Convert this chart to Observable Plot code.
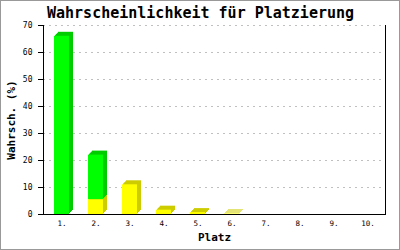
<!DOCTYPE html>
<html>
<head>
<meta charset="utf-8">
<script src="https://cdn.jsdelivr.net/npm/d3@7"></script>
<script src="https://cdn.jsdelivr.net/npm/@observablehq/plot@0.6"></script>
<style>
  html, body { margin: 0; padding: 0; background: #fff; }
  #wrap { position: relative; width: 400px; height: 250px; }
  #border { position: absolute; left: 0; top: 0; width: 400px; height: 250px; box-sizing: border-box; border: 1px solid #999; pointer-events: none; }
  svg { display: block; }
</style>
</head>
<body>
<div id="wrap"><div id="border"></div></div>
<script>
const places = ["1.", "2.", "3.", "4.", "5.", "6.", "7.", "8.", "9.", "10."];
const green = [66, 16.5, 0, 0, 0, 0, 0, 0, 0, 0];
const yellow = [0, 5.5, 11, 1.6, 0.7, 0.2, 0, 0, 0, 0];
const yTicks = [0, 10, 20, 30, 40, 50, 60, 70];
const title = "Wahrscheinlichkeit für Platzierung";
const xLabel = "Platz";
const yLabel = "Wahrsch. (%)";

const rows = places.map((p, i) => ({
  place: p,
  y0: 0,
  y1: yellow[i],
  g0: yellow[i],
  g1: yellow[i] + green[i]
}));

const font = "DejaVu Sans Mono, Liberation Mono, monospace";
const depth = [1, 2, 3, 4];

const marks = [
  Plot.gridY(yTicks, {stroke: "#c0c0c0", strokeOpacity: 1, strokeDasharray: "2,4"}),
  ...depth.map(k => Plot.barY(rows, {x: "place", y1: "y0", y2: "y1", fill: "#cccc00", dx: k, dy: -k})),
  ...depth.map(k => Plot.barY(rows, {x: "place", y1: "g0", y2: "g1", fill: "#00cc00", dx: k, dy: -k})),
  Plot.barY(rows, {x: "place", y1: "y0", y2: "y1", fill: "#ffff00"}),
  Plot.barY(rows, {x: "place", y1: "g0", y2: "g1", fill: "#00ff00"}),
  Plot.frame({anchor: "left", stroke: "#000"}),
  Plot.frame({anchor: "right", stroke: "#000"}),
  Plot.frame({anchor: "bottom", stroke: "#000"}),
  Plot.axisY(yTicks, {tickSize: 5, tickPadding: 6, fontSize: 8, label: null, stroke: "#000"}),
  Plot.axisX({tickSize: 0, tickPadding: 6, fontSize: 7.5, label: null}),
  Plot.text([title], {frameAnchor: "top", lineAnchor: "middle", dy: -12, dx: -14, fontSize: 15, fontWeight: "bold", fill: "#000"}),
  Plot.text([xLabel], {frameAnchor: "bottom", lineAnchor: "middle", dy: 23, fontSize: 11, fontWeight: "bold", fill: "#000"}),
  Plot.text([yLabel], {frameAnchor: "left", textAnchor: "middle", lineAnchor: "middle", dx: -32, rotate: -90, fontSize: 11, fontWeight: "bold", fill: "#000"})
];

const chart = Plot.plot({
  width: 400,
  height: 250,
  marginLeft: 43,
  marginRight: 15,
  marginTop: 25,
  marginBottom: 36,
  style: {fontFamily: font, background: "#fff", color: "#000"},
  x: {domain: places, paddingInner: 0.56, paddingOuter: 0.28, label: null},
  y: {domain: [0, 70], label: null},
  marks
});
document.getElementById("wrap").prepend(chart);
</script>
</body>
</html>
